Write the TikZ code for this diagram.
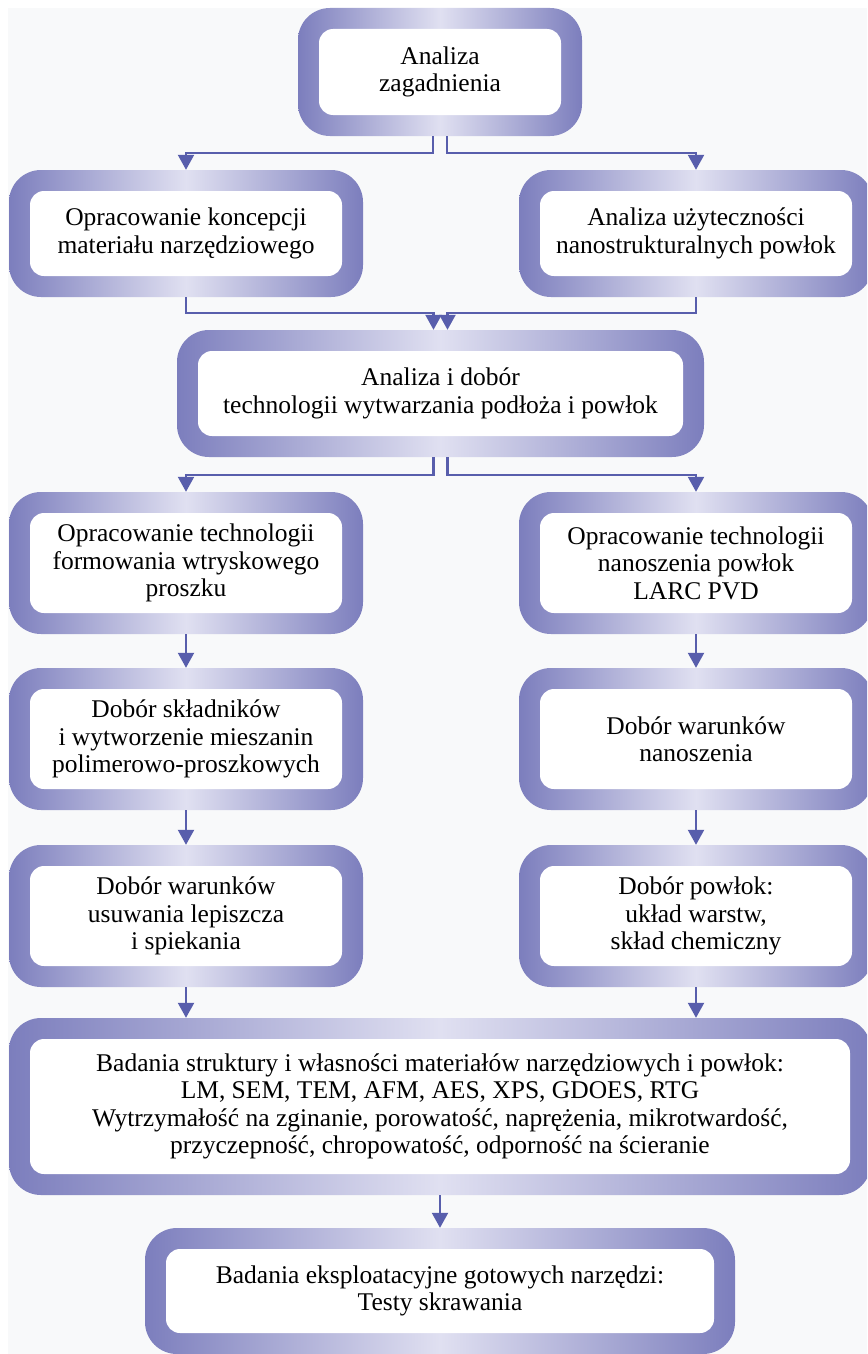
\documentclass[tikz,border=0pt]{standalone}
\usepackage{fontspec}
\setmainfont{Liberation Serif}
\usetikzlibrary{arrows.meta}
\definecolor{frameedge}{RGB}{124,126,189}
\definecolor{framemid}{RGB}{224,224,241}
\definecolor{linkc}{RGB}{88,94,172}
\definecolor{pagebg}{RGB}{248,249,250}
\newcommand{\boxfont}{\fontsize{25.5}{27.5}\selectfont}
\tikzset{
  tbox/.style={rounded corners=32pt, inner sep=0pt, align=center, font=\boxfont,
    left color=frameedge, right color=frameedge, middle color=framemid,
    path picture={\fill[white, rounded corners=14pt]
      ([shift={(21,21)}]path picture bounding box.north west) rectangle
      ([shift={(-21,-21)}]path picture bounding box.south east);}},
  link/.style={draw=linkc, line width=2.2pt, -{Triangle[width=16pt,length=15pt]}}
}
\begin{document}
\begin{tikzpicture}[x=1pt,y=-1pt]
\useasboundingbox (0,0) rectangle (867,1354);
\clip (0,0) rectangle (867,1354);
\fill[pagebg] (8,8) rectangle (867,1354);
% boxes
\node[tbox, minimum width=284pt, minimum height=128pt] (anal) at (440,72) {Analiza\\zagadnienia};
\node[tbox, minimum width=354pt, minimum height=127pt] (konc) at (186,233.5) {Opracowanie koncepcji\\materiału narzędziowego};
\node[tbox, minimum width=354pt, minimum height=127pt] (uzyt) at (696,233.5) {Analiza użyteczności\\nanostrukturalnych powłok};
\node[tbox, minimum width=527pt, minimum height=127pt] (dobor) at (440.5,393.5) {Analiza i dobór\\technologii wytwarzania podłoża i powłok};
\node[tbox, minimum width=354pt, minimum height=142pt] (pim) at (186,563) {Opracowanie technologii\\formowania wtryskowego\\proszku};
\node[tbox, minimum width=354pt, minimum height=142pt] (pvd) at (696,563) {Opracowanie technologii\\nanoszenia powłok\\LARC PVD};
\node[tbox, minimum width=354pt, minimum height=142pt] (skl) at (186,739) {Dobór składników\\i wytworzenie mieszanin\\polimerowo-proszkowych};
\node[tbox, minimum width=354pt, minimum height=142pt] (war) at (696,739) {Dobór warunków\\nanoszenia};
\node[tbox, minimum width=354pt, minimum height=142pt] (lep) at (186,916) {Dobór warunków\\usuwania lepiszcza\\i spiekania};
\node[tbox, minimum width=354pt, minimum height=142pt] (pow) at (696,916) {Dobór powłok:\\układ warstw,\\skład chemiczny};
\node[tbox, minimum width=862pt, minimum height=177pt] (bad) at (440,1106.5) {Badania struktury i własności materiałów narzędziowych i powłok:\\LM, SEM, TEM, AFM, AES, XPS, GDOES, RTG\\Wytrzymałość na zginanie, porowatość, naprężenia, mikrotwardość,\\przyczepność, chropowatość, odporność na ścieranie};
\node[tbox, minimum width=590pt, minimum height=126pt] (test) at (440,1291) {Badania eksploatacyjne gotowych narzędzi:\\Testy skrawania};
% connectors
\draw[link] ([xshift=-7pt]anal.south) -- ++(0,17) -| (konc.north);
\draw[link] ([xshift=7pt]anal.south) -- ++(0,17) -| (uzyt.north);
\draw[link] (konc.south) -- ++(0,16) -| ([xshift=-7pt]dobor.north);
\draw[link] (uzyt.south) -- ++(0,16) -| ([xshift=7pt]dobor.north);
\draw[link] ([xshift=-7pt]dobor.south) -- ++(0,18) -| (pim.north);
\draw[link] ([xshift=7pt]dobor.south) -- ++(0,18) -| (pvd.north);
\draw[link] (pim) -- (skl);
\draw[link] (pvd) -- (war);
\draw[link] (skl) -- (lep);
\draw[link] (war) -- (pow);
\draw[link] (lep.south) -- (lep.south |- bad.north);
\draw[link] (pow.south) -- (pow.south |- bad.north);
\draw[link] (bad) -- (test);
\end{tikzpicture}
\end{document}
